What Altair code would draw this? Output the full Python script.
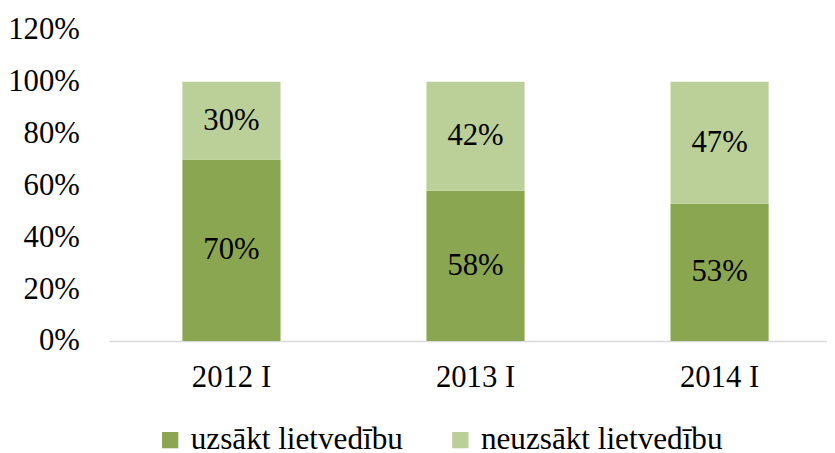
import altair as alt
import pandas as pd

categories = ["2012 I", "2013 I", "2014 I"]
series_names = ["uzsākt lietvedību", "neuzsākt lietvedību"]
started = [70, 58, 53]
not_started = [30, 42, 47]
colors = ["#8BA650", "#BBCF98"]

rows = []
for i, c in enumerate(categories):
    rows.append({"cat": c, "series": series_names[0], "value": started[i] / 100, "ord": 0})
    rows.append({"cat": c, "series": series_names[1], "value": not_started[i] / 100, "ord": 1})
df = pd.DataFrame(rows)

FONT = "Liberation Serif"
FS = 31

base = alt.Chart(df).transform_stack(
    stack="value", groupby=["cat"], as_=["y0", "y1"], sort=[alt.SortField("ord", order="ascending")]
).transform_calculate(
    ymid="(datum.y0 + datum.y1) / 2"
)

xenc = alt.X(
    "cat:N",
    sort=categories,
    scale=alt.Scale(paddingInner=0.598, paddingOuter=0.27, align=0.557),
    axis=alt.Axis(
        title=None, labelAngle=0, ticks=False, domainColor="#d9d9d9", domainWidth=1.5,
        labelFont=FONT, labelFontSize=FS, labelColor="#000000", labelPadding=22,
    ),
)

bars = base.mark_bar().encode(
    x=xenc,
    y=alt.Y(
        "y0:Q",
        scale=alt.Scale(domain=[0, 1.2], nice=False),
        axis=alt.Axis(
            title=None, format=".0%", values=[0, 0.2, 0.4, 0.6, 0.8, 1.0, 1.2],
            grid=False, ticks=False, domain=False,
            labelFont=FONT, labelFontSize=FS, labelColor="#000000", labelPadding=30,
        ),
    ),
    y2="y1:Q",
    color=alt.Color(
        "series:N",
        scale=alt.Scale(domain=series_names, range=colors),
        legend=alt.Legend(
            title=None, orient="none", direction="horizontal", legendX=46, legendY=398,
            symbolType="square", symbolSize=270, symbolStrokeWidth=0,
            labelFont=FONT, labelFontSize=31.5, labelColor="#000000", labelOffset=5,
            columnPadding=42, padding=0, labelLimit=400,
        ),
    ),
)

labels = base.mark_text(font=FONT, fontSize=FS, color="#000000", baseline="middle").encode(
    x=alt.X("cat:N", sort=categories),
    y=alt.Y("ymid:Q"),
    text=alt.Text("value:Q", format=".0%"),
)

chart = alt.layer(bars, labels).properties(
    width=725, height=314,
    background="white",
    autosize=alt.AutoSizeParams(type="none"),
    padding={"left": 102, "top": 20, "right": 0, "bottom": 125},
).configure_view(strokeWidth=0, stroke="transparent")

chart.save("out.html", embed_options={"renderer": "svg", "actions": False})
